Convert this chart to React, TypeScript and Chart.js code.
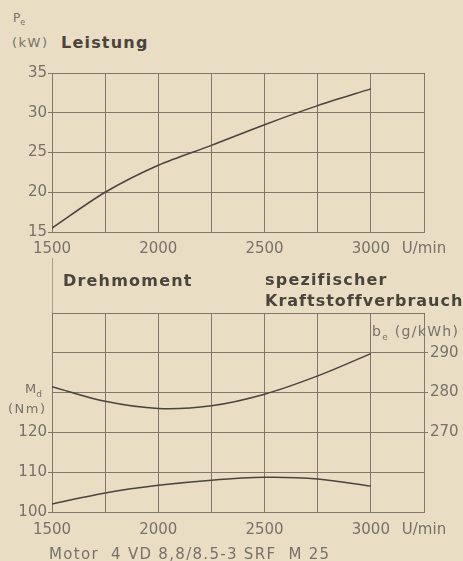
import React, { useEffect, useRef } from "react";
import { Chart, registerables } from "chart.js";

Chart.register(...registerables);

// ---- data ----
const rpm = [1500, 1750, 2000, 2250, 2500, 2750, 3000];
const leistungKW = [15.5, 20.0, 23.4, 25.9, 28.5, 30.9, 33.0];
const drehmomentNm = [102.0, 104.8, 106.7, 108.0, 108.7, 108.3, 106.5];
const verbrauchGkWh = [281.5, 277.8, 276.0, 276.7, 279.6, 284.2, 289.8];

const xLabelTicks = [1500, 2000, 2500, 3000];
const xUnitTick = 3250;
const xUnitLabel = "U/min";
const powerTickLabels = [15, 20, 25, 30, 35];
const torqueTickLabels = [100, 110, 120];
const consumptionTickLabels = [270, 280, 290];

const BG = "#e9dec3";
const GRID = "#7f7767";
const LINE = "#4a443d";
const TICK_TEXT = "#78716a";
const TITLE = "#4a443d";
const FONT = "'DejaVu Sans', sans-serif";

function xScale(pad: number) {
  return {
    type: "linear" as const,
    min: 1500,
    max: 3250,
    afterBuildTicks: (s: any) => {
      const t = [];
      for (let v = 1500; v <= 3250; v += 250) t.push({ value: v });
      s.ticks = t;
    },
    ticks: {
      autoSkip: false,
      maxRotation: 0,
      padding: pad,
      color: TICK_TEXT,
      font: { family: FONT, size: 15 },
      callback: (v: any) =>
        v === xUnitTick ? xUnitLabel : xLabelTicks.includes(v) ? String(v) : "",
    },
    grid: { color: GRID, lineWidth: 1, drawTicks: false },
    border: { color: GRID, width: 1 },
  };
}

function TopChart() {
  const ref = useRef<HTMLCanvasElement>(null);
  useEffect(() => {
    const chart = new Chart(ref.current!, {
      type: "line",
      data: {
        datasets: [
          {
            data: rpm.map((x, i) => ({ x, y: leistungKW[i] })),
            borderColor: LINE,
            borderWidth: 1.5,
            pointRadius: 0,
            tension: 0.3,
          },
        ],
      },
      options: {
        animation: false,
        responsive: false,
        layout: { padding: { top: 13, right: 39, left: 0, bottom: 0 } },
        plugins: { legend: { display: false }, tooltip: { enabled: false } },
        scales: {
          x: { ...xScale(8), afterFit: (s: any) => { s.height = 28; } } as any,
          y: {
            type: "linear",
            min: 15,
            max: 35,
            afterBuildTicks: (s: any) => {
              s.ticks = powerTickLabels.map((v) => ({ value: v }));
            },
            afterFit: (s: any) => { s.width = 52; },
            ticks: {
              padding: 1,
              color: TICK_TEXT,
              font: { family: FONT, size: 15 },
            },
            grid: { color: GRID, lineWidth: 1, tickLength: 4 },
            border: { color: GRID, width: 1 },
          } as any,
        },
      },
    });
    return () => chart.destroy();
  }, []);
  return <canvas ref={ref} width={463} height={200} />;
}

function BottomChart() {
  const ref = useRef<HTMLCanvasElement>(null);
  useEffect(() => {
    const chart = new Chart(ref.current!, {
      type: "line",
      data: {
        datasets: [
          {
            data: rpm.map((x, i) => ({ x, y: verbrauchGkWh[i] })),
            yAxisID: "yR",
            borderColor: LINE,
            borderWidth: 1.5,
            pointRadius: 0,
            tension: 0.35,
          },
          {
            data: rpm.map((x, i) => ({ x, y: drehmomentNm[i] })),
            yAxisID: "y",
            borderColor: LINE,
            borderWidth: 1.5,
            pointRadius: 0,
            tension: 0.35,
          },
        ],
      },
      options: {
        animation: false,
        responsive: false,
        layout: { padding: { top: 13, right: 0, left: 0, bottom: 0 } },
        plugins: { legend: { display: false }, tooltip: { enabled: false } },
        scales: {
          x: { ...xScale(9), afterFit: (s: any) => { s.height = 33; } } as any,
          y: {
            type: "linear",
            position: "left",
            min: 100,
            max: 150,
            afterBuildTicks: (s: any) => {
              const t = [];
              for (let v = 100; v <= 150; v += 10) t.push({ value: v });
              s.ticks = t;
            },
            afterFit: (s: any) => { s.width = 52; },
            ticks: {
              padding: 1,
              color: TICK_TEXT,
              font: { family: FONT, size: 15 },
              callback: (v: any) => (torqueTickLabels.includes(v) ? String(v) : ""),
            },
            grid: {
              color: GRID,
              lineWidth: 1,
              tickLength: 4,
              tickColor: (c: any) =>
                torqueTickLabels.includes(c.tick?.value) ? GRID : "rgba(0,0,0,0)",
            },
            border: { color: GRID, width: 1 },
          } as any,
          yR: {
            type: "linear",
            position: "right",
            min: 250,
            max: 300,
            afterBuildTicks: (s: any) => {
              const t = [];
              for (let v = 250; v <= 300; v += 10) t.push({ value: v });
              s.ticks = t;
            },
            afterFit: (s: any) => { s.width = 39; },
            ticks: {
              padding: 2,
              color: TICK_TEXT,
              font: { family: FONT, size: 15 },
              callback: (v: any) => (consumptionTickLabels.includes(v) ? String(v) : ""),
            },
            grid: {
              drawOnChartArea: false,
              lineWidth: 1,
              tickLength: 4,
              color: (c: any) =>
                consumptionTickLabels.includes(c.tick?.value) ? GRID : "rgba(0,0,0,0)",
            },
            border: { display: false },
          } as any,
        },
      },
    });
    return () => chart.destroy();
  }, []);
  return <canvas ref={ref} width={463} height={245} />;
}

function Label(props: {
  x: number;
  cy: number;
  size: number;
  bold?: boolean;
  spacing?: number;
  color?: string;
  children: React.ReactNode;
}) {
  const lh = Math.round(props.size * 1.3);
  return (
    <div
      style={{
        position: "absolute",
        left: props.x,
        top: props.cy - lh / 2,
        lineHeight: lh + "px",
        fontSize: props.size,
        fontFamily: FONT,
        fontWeight: props.bold ? "bold" : "normal",
        letterSpacing: (props.spacing ?? 0) + "px",
        color: props.color ?? TICK_TEXT,
        whiteSpace: "nowrap",
        zIndex: 2,
      }}
    >
      {props.children}
    </div>
  );
}

export default function App() {
  return (
    <div
      style={{
        position: "absolute",
        left: 0,
        top: 0,
        width: 463,
        height: 561,
        background: BG,
        overflow: "hidden",
      }}
    >
      <div style={{ position: "absolute", left: 0, top: 60 }}>
        <TopChart />
      </div>
      <div style={{ position: "absolute", left: 0, top: 300 }}>
        <BottomChart />
      </div>
      <div
        style={{
          position: "absolute",
          left: 52,
          top: 258,
          width: 1,
          height: 55,
          background: GRID,
          opacity: 0.6,
        }}
      />
      <Label x={13} cy={18} size={12}>
        P<sub style={{ fontSize: 8 }}>e</sub>
      </Label>
      <Label x={12} cy={42} size={13} spacing={1.5}>(kW)</Label>
      <Label x={61} cy={42} size={16} bold spacing={1.2} color={TITLE}>
        Leistung
      </Label>
      <Label x={63} cy={280} size={16} bold spacing={1.2} color={TITLE}>
        Drehmoment
      </Label>
      <Label x={265} cy={279} size={16} bold spacing={1.2} color={TITLE}>
        spezifischer
      </Label>
      <Label x={265} cy={300} size={16} bold spacing={1} color={TITLE}>
        Kraftstoffverbrauch
      </Label>
      <Label x={372} cy={331} size={14} spacing={1.3}>
        b<sub style={{ fontSize: 9 }}>e</sub> (g/kWh)
      </Label>
      <Label x={25} cy={388} size={13}>
        M<sub style={{ fontSize: 9 }}>d</sub>
      </Label>
      <Label x={8} cy={408} size={13} spacing={1.5}>(Nm)</Label>
      <Label x={49} cy={554} size={15} spacing={1.3}>
        Motor&nbsp; 4 VD 8,8/8.5-3 SRF&nbsp; M 25
      </Label>
    </div>
  );
}
